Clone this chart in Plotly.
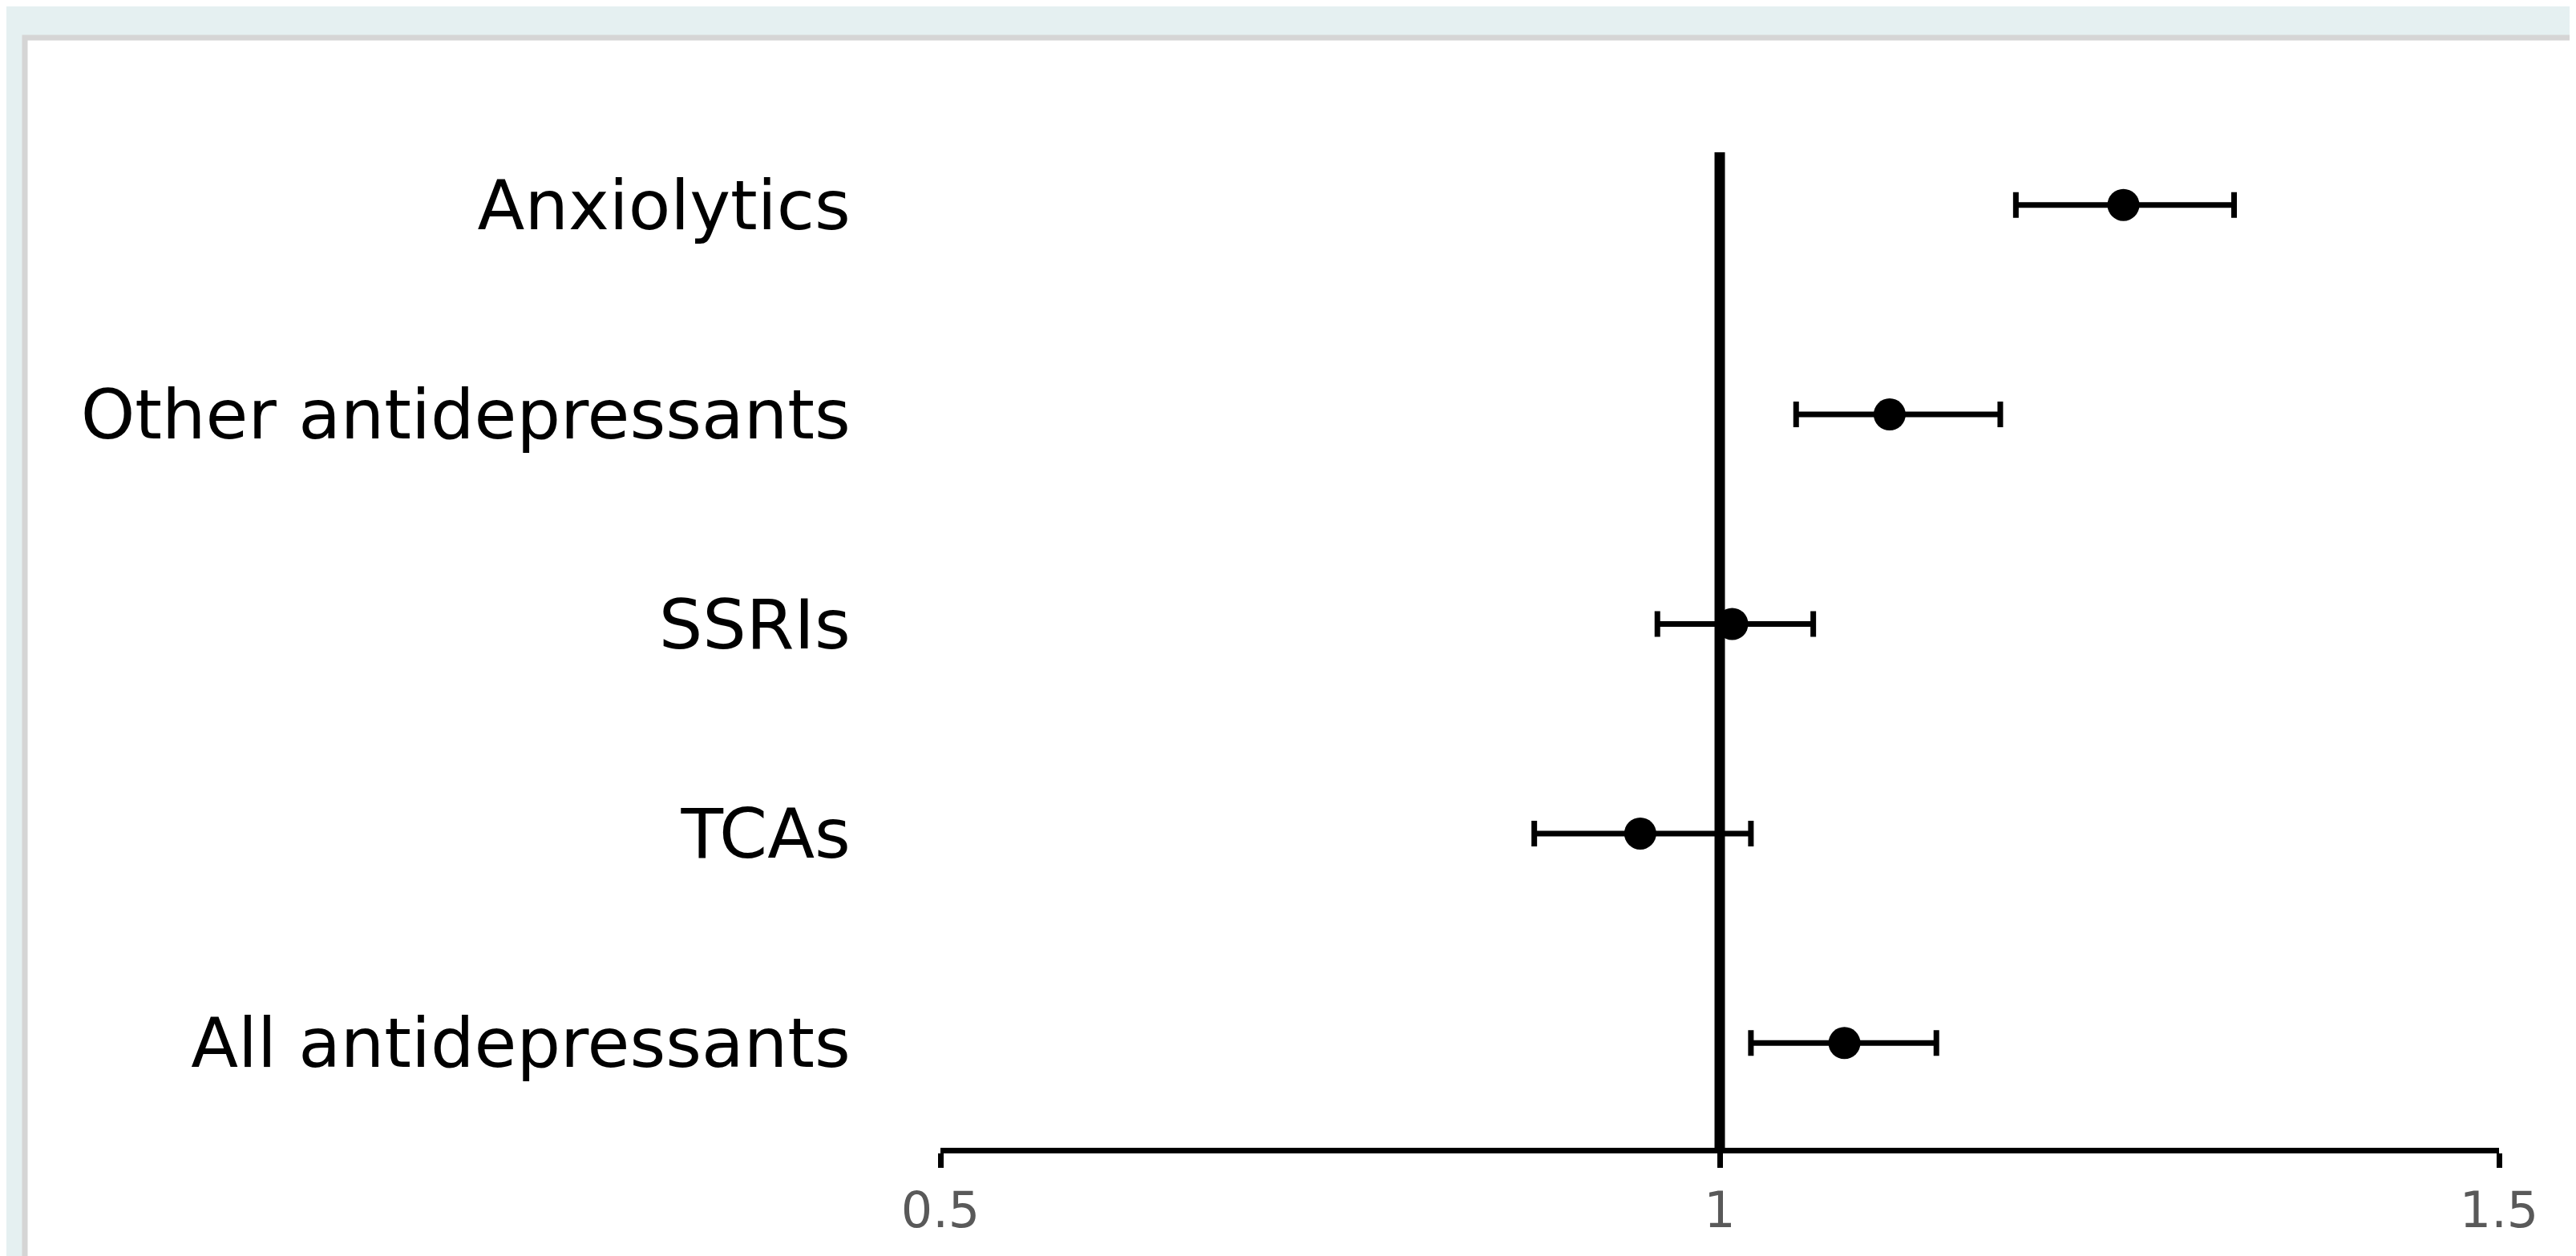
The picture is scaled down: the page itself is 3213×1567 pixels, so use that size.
import plotly.graph_objects as go

categories = ["All antidepressants", "TCAs", "SSRIs", "Other antidepressants", "Anxiolytics"]
estimate = [1.080, 0.949, 1.008, 1.109, 1.259]
lower = [1.020, 0.881, 0.960, 1.049, 1.190]
upper = [1.139, 1.020, 1.060, 1.180, 1.330]
x_ticks = [0.5, 1, 1.5]
x_tick_labels = ["0.5", "1", "1.5"]
reference_value = 1

W, H = 3213, 1567
L, R, T, B = 1165, 104, 117, 143
pw, ph = W - L - R, H - T - B

fig = go.Figure()
fig.add_trace(go.Scatter(
    x=estimate, y=categories, mode="markers",
    marker=dict(color="black", size=40),
    error_x=dict(type="data", symmetric=False,
                 array=[u - e for u, e in zip(upper, estimate)],
                 arrayminus=[e - l for e, l in zip(estimate, lower)],
                 color="black", thickness=7, width=16),
    showlegend=False, cliponaxis=False,
))

# card background
fig.add_shape(type="rect", xref="paper", yref="paper", layer="below",
              x0=(23 - L) / pw, x1=1.3, y0=-0.3, y1=(H - B - 39) / ph,
              fillcolor="white", line=dict(color="#d5d5d5", width=7))
# reference line
fig.add_shape(type="line", xref="x", yref="paper", layer="above",
              x0=reference_value, x1=reference_value, y0=0, y1=(H - B - 182) / ph,
              line=dict(color="black", width=13))

fig.update_layout(
    width=W, height=H,
    margin=dict(l=L, r=R, t=T, b=B, autoexpand=False),
    paper_bgcolor="#e5f0f1", plot_bgcolor="rgba(0,0,0,0)",
    xaxis=dict(range=[0.5, 1.5], tickvals=x_ticks, ticktext=x_tick_labels,
               showgrid=False, zeroline=False, showline=True, linecolor="black",
               linewidth=7, ticks="outside", ticklen=18, tickwidth=7, tickcolor="black",
               tickfont=dict(family="DejaVu Sans", size=62, color="#595959")),
    yaxis=dict(type="category", categoryorder="array", categoryarray=categories,
               range=[-0.5, 4.5], showgrid=False, zeroline=False, showline=False,
               ticks="outside", ticklen=94, tickcolor="rgba(0,0,0,0)",
               tickfont=dict(family="DejaVu Sans", size=86, color="black")),
)

fig.write_html("out.html")
